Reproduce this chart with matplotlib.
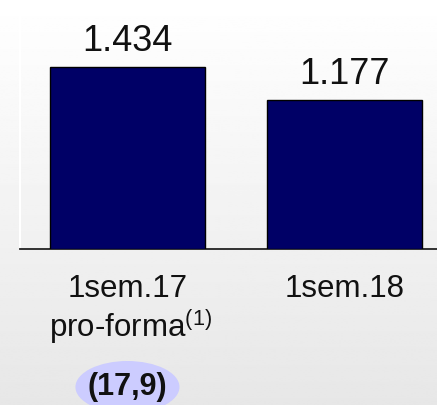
import numpy as np
import matplotlib.pyplot as plt
from matplotlib.patches import Ellipse
from matplotlib.transforms import blended_transform_factory

plt.rcParams["font.family"] = ["Liberation Sans", "DejaVu Sans"]
plt.rcParams["mathtext.fontset"] = "custom"
plt.rcParams["mathtext.rm"] = "Liberation Sans"

# values (thousands)
periods = ["1sem.17", "1sem.18"]
values = [1434, 1177]
value_labels = ["1.434", "1.177"]
sub_labels = [r"pro-forma$^{\mathrm{(1)}}$", ""]
change_label = "(17,9)"

W, H = 437, 406
fig = plt.figure(figsize=(W / 100, H / 100), dpi=100)

# soft vertical gradient background
bg = fig.add_axes([0, 0, 1, 1], zorder=-1)
grad = np.linspace(1.0, 0.905, 200).reshape(-1, 1)
bg.imshow(grad, cmap="gray", vmin=0, vmax=1, aspect="auto", extent=[0, 1, 0, 1])
bg.axis("off")

# plot area: baseline at 250 px from top, left edge at 20 px
ax = fig.add_axes([20 / W, (H - 250) / H, 1 - 20 / W, 250 / H])
ax.patch.set_visible(False)

x = np.arange(len(values))
ax.bar(x, values, width=0.714, color="#000066", edgecolor="black", linewidth=1.0, zorder=3)
ax.set_xlim(-0.495, 1.426)
ax.set_ylim(0, 250 / (182 / 1434))

for xi, v, lab in zip(x, values, value_labels):
    ax.annotate(lab, (xi, v), xytext=(0, 19), textcoords="offset points",
                ha="center", va="center", fontsize=26, color="#111111")

for xi, p, s in zip(x, periods, sub_labels):
    ax.annotate(p, (xi, 0), xytext=(0, -28), textcoords="offset points",
                ha="center", va="center", fontsize=22.5, color="#111111",
                annotation_clip=False)
    if s:
        ax.annotate(s, (xi, 0), xytext=(2, -55), textcoords="offset points",
                    ha="center", va="center", fontsize=22.5, color="#111111",
                    annotation_clip=False)

# change bubble under the first bar
trans = blended_transform_factory(ax.transData, fig.transFigure)
ax.add_patch(Ellipse((x[0], 1 - 388 / H), width=104 / 217, height=52 / H,
                     transform=trans, facecolor="#CCCCFF", edgecolor="none",
                     clip_on=False, zorder=2))
ax.annotate(change_label, (x[0], 0), xytext=(0, -99), textcoords="offset points",
            ha="center", va="center", fontsize=22, fontweight="bold",
            color="#111111", annotation_clip=False, zorder=4)

for side in ["top", "right"]:
    ax.spines[side].set_visible(False)
ax.spines["left"].set_color("white")
ax.spines["left"].set_linewidth(1.5)
ax.spines["bottom"].set_color("#222222")
ax.spines["bottom"].set_linewidth(1.3)
ax.set_xticks([])
ax.set_yticks([])

fig.savefig("out.png", dpi=100)
